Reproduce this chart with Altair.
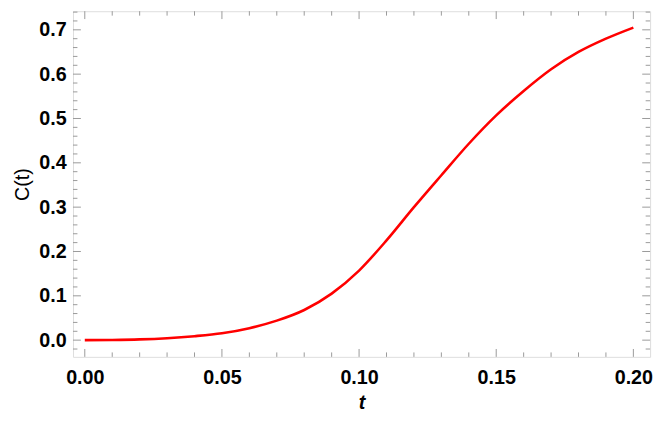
import altair as alt
import pandas as pd

# curve values
t_vals = [0.0, 0.01, 0.02, 0.03, 0.04, 0.05, 0.06, 0.07, 0.08, 0.09, 0.10,
          0.11, 0.12, 0.13, 0.14, 0.15, 0.16, 0.17, 0.18, 0.19, 0.20]
c_vals = [0.0, 0.0005, 0.0018, 0.0045, 0.009, 0.0155, 0.027, 0.044, 0.068, 0.105, 0.157,
          0.225, 0.300, 0.372, 0.443, 0.507, 0.562, 0.611, 0.650, 0.680, 0.705]

# axis tick values
x_major = [0.0, 0.05, 0.10, 0.15, 0.20]
x_minor = [0.01, 0.02, 0.03, 0.04, 0.06, 0.07, 0.08, 0.09, 0.11, 0.12, 0.13, 0.14,
           0.16, 0.17, 0.18, 0.19]
y_major = [0.0, 0.1, 0.2, 0.3, 0.4, 0.5, 0.6, 0.7]
y_minor = [-0.02, 0.02, 0.04, 0.06, 0.08, 0.12, 0.14, 0.16, 0.18, 0.22, 0.24, 0.26, 0.28,
           0.32, 0.34, 0.36, 0.38, 0.42, 0.44, 0.46, 0.48, 0.52, 0.54, 0.56, 0.58,
           0.62, 0.64, 0.66, 0.68, 0.72, 0.74]

W, H = 586, 351
FRAME = "#999999"
MAJ, MIN = 8, 4.5

df = pd.DataFrame({"t": t_vals, "C": c_vals})
xscale = alt.Scale(domain=[-0.0043, 0.2061], nice=False, zero=False)
yscale = alt.Scale(domain=[-0.0377, 0.742], nice=False, zero=False)

xaxis = alt.Axis(values=x_major, format=".2f", grid=False, ticks=False, domain=False,
                 labelFont="Liberation Sans", labelFontSize=20, labelFontWeight="bold",
                 labelColor="black", labelPadding=11,
                 title="t", titleFont="Liberation Sans", titleFontSize=20,
                 titleFontWeight="bold", titleFontStyle="italic", titleColor="black",
                 titlePadding=5)
yaxis = alt.Axis(values=y_major, format=".1f", grid=False, ticks=False, domain=False,
                 labelFont="Liberation Sans", labelFontSize=20, labelFontWeight="bold",
                 labelColor="black", labelPadding=7,
                 title="C(t)", titleFont="Liberation Sans", titleFontSize=20,
                 titleFontWeight="normal", titleColor="black", titlePadding=6)

line = alt.Chart(df).mark_line(color="#ff0000", strokeWidth=2.6, interpolate="monotone",
                               clip=True).encode(
    x=alt.X("t:Q", scale=xscale, axis=xaxis),
    y=alt.Y("C:Q", scale=yscale, axis=yaxis),
)

def xticks(vals, length):
    d = pd.DataFrame({"v": vals})
    b = alt.Chart(d).mark_rule(color=FRAME, strokeWidth=1).encode(
        x=alt.X("v:Q", scale=xscale), y=alt.value(H), y2=alt.value(H - length))
    t = alt.Chart(d).mark_rule(color=FRAME, strokeWidth=1).encode(
        x=alt.X("v:Q", scale=xscale), y=alt.value(0), y2=alt.value(length))
    return [b, t]

def yticks(vals, length):
    d = pd.DataFrame({"v": vals})
    l = alt.Chart(d).mark_rule(color=FRAME, strokeWidth=1).encode(
        y=alt.Y("v:Q", scale=yscale), x=alt.value(0), x2=alt.value(length))
    r = alt.Chart(d).mark_rule(color=FRAME, strokeWidth=1).encode(
        y=alt.Y("v:Q", scale=yscale), x=alt.value(W), x2=alt.value(W - length))
    return [l, r]

layers = xticks(x_major, MAJ) + xticks(x_minor, MIN) + yticks(y_major, MAJ) + yticks(y_minor, MIN)

chart = alt.layer(line, *layers).properties(
    width=W, height=H,
    autosize=alt.AutoSizeParams(type="none"),
    padding={"left": 66, "top": 0, "right": 6, "bottom": 70},
).configure_view(stroke=FRAME, strokeWidth=1.2).configure(background="white")

chart.save("out.html", embed_options={"renderer": "svg", "actions": False})
